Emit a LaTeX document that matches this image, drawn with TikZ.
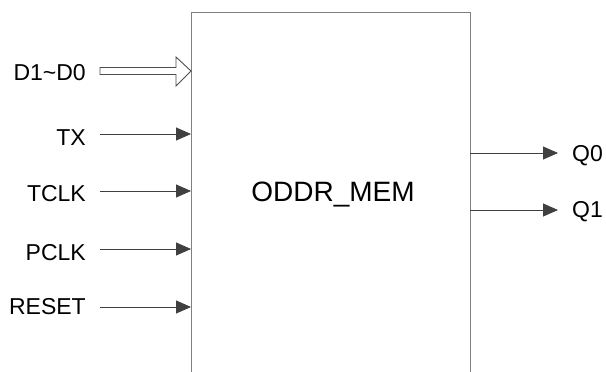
\documentclass[tikz,border=0pt]{standalone}
\usepackage{fontspec}
\setmainfont{Liberation Sans}
\usetikzlibrary{arrows.meta}
\begin{document}
\begin{tikzpicture}[x=1pt,y=-1pt,
  lbl/.style={font=\fontsize{23}{27}\selectfont, inner sep=0pt},
  sig/.style={draw=black!75, line width=0.9pt, -{Triangle[length=15pt,width=13pt,fill=black!75]}},
  boxline/.style={draw=black!50, line width=1.3pt}]
\useasboundingbox (0,0) rectangle (606,372);
\clip (0,0) rectangle (606,372);
% box (open at bottom)
\node[boxline, minimum width=279pt, minimum height=380pt, anchor=north west, inner sep=0pt] (mem) at (191,12) {};
\node[font=\fontsize{28}{32}\selectfont, inner sep=0pt, anchor=base] (name) at (333,201) {ODDR\_MEM};
% input labels
\node[lbl, anchor=base east] (d) at (86,80.5) {D1\textasciitilde D0};
\node[lbl, anchor=base east] (tx) at (86,145) {TX};
\node[lbl, anchor=base east] (tclk) at (86,201) {TCLK};
\node[lbl, anchor=base east] (pclk) at (86,260) {PCLK};
\node[lbl, anchor=base east] (reset) at (86,314) {RESET};
% input arrow coordinates
\coordinate (tx0) at (100,134); \coordinate (tx1) at (191,134);
\coordinate (tclk0) at (100,191); \coordinate (tclk1) at (191,191);
\coordinate (pclk0) at (100,249); \coordinate (pclk1) at (191,249);
\coordinate (reset0) at (100,307); \coordinate (reset1) at (191,307);
\draw[sig] (tx0) -- (tx1);
\draw[sig] (tclk0) -- (tclk1);
\draw[sig] (pclk0) -- (pclk1);
\draw[sig] (reset0) -- (reset1);
% hollow bus arrow
\coordinate (bus) at (191,71);
\draw[black!70, line width=0.9pt, fill=white]
  (100,67.5) -- (176,67.5) -- (176,57) -- (bus) -- (176,86) -- (176,74.5) -- (100,74.5) -- cycle;
% outputs
\coordinate (q0a) at (470,153); \coordinate (q0b) at (558,153);
\coordinate (q1a) at (470,210); \coordinate (q1b) at (558,210);
\draw[sig] (q0a) -- (q0b);
\draw[sig] (q1a) -- (q1b);
\node[lbl, anchor=base west] (q0) at (572,161) {Q0};
\node[lbl, anchor=base west] (q1) at (572,217.5) {Q1};
\end{tikzpicture}
\end{document}
